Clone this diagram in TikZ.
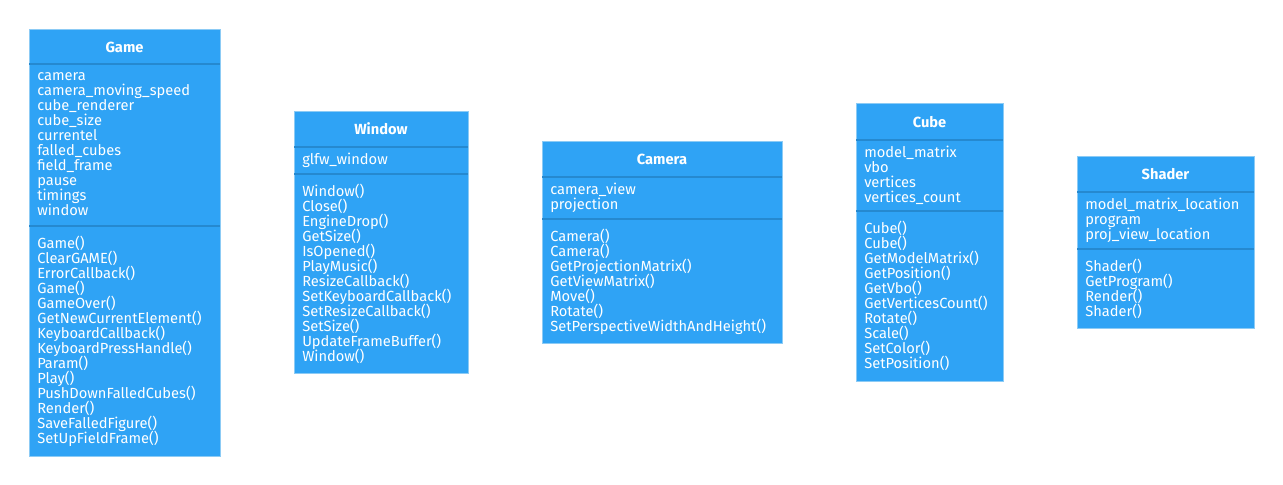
\documentclass[tikz,border=0pt]{standalone}
\usepackage{fontspec}
\setmainfont{Fira Sans}
\usepackage{tikz}

\definecolor{umlblue}{HTML}{2FA3F5}
\definecolor{umldark}{HTML}{2589D0}
\definecolor{umlborder}{HTML}{8CCBF5}
\newcommand\tightlines{\lineskiplimit=-100pt\relax}

\begin{document}
\begin{tikzpicture}[x=0.75pt,y=-0.75pt,
		classbox/.style={draw=umlborder,fill=umlblue,line width=0.75pt},
		divider/.style={draw=umldark,line width=1.5pt},
		title/.style={text=white,inner sep=0pt,font=\bfseries\fontsize{11}{12}\selectfont},
		members/.style={text=white,align=left,anchor=north west,inner sep=0pt,
			font=\fontsize{11}{11.25}\selectfont\tightlines}]
		\useasboundingbox (0,0) rectangle (1283,485);
		
		% Game
		\draw[classbox] (29,30) rectangle (220,456);
		\node[title] (game) at (124.5,47) {Game};
		\draw[divider] (29,64) -- (220,64);
		\draw[divider] (29,226) -- (220,226);
		\node[members] (gameattr) at (37,70) {\strut camera\\camera\_moving\_speed\\cube\_renderer\\cube\_size\\currentel\\falled\_cubes\\field\_frame\\pause\\timings\\window};
		\node[members] (gameops) at (37,236) {\strut Game()\\ClearGAME()\\ErrorCallback()\\Game()\\GameOver()\\GetNewCurrentElement()\\KeyboardCallback()\\KeyboardPressHandle()\\Param()\\Play()\\PushDownFalledCubes()\\Render()\\SaveFalledFigure()\\SetUpFieldFrame()};
		
		% Window
		\draw[classbox] (294,112) rectangle (468,373);
		\node[title] (window) at (381,129) {Window};
		\draw[divider] (294,147) -- (468,147);
		\draw[divider] (294,174) -- (468,174);
		\node[members] (windowattr) at (302,153) {\strut glfw\_window};
		\node[members] (windowops) at (302,184) {\strut Window()\\Close()\\EngineDrop()\\GetSize()\\IsOpened()\\PlayMusic()\\ResizeCallback()\\SetKeyboardCallback()\\SetResizeCallback()\\SetSize()\\UpdateFrameBuffer()\\Window()};
		
		% Camera
		\draw[classbox] (542,142) rectangle (782,343);
		\node[title] (camera) at (662,159) {Camera};
		\draw[divider] (542,177) -- (782,177);
		\draw[divider] (542,219) -- (782,219);
		\node[members] (cameraattr) at (550,183) {\strut camera\_view\\projection};
		\node[members] (cameraops) at (550,229) {\strut Camera()\\Camera()\\GetProjectionMatrix()\\GetViewMatrix()\\Move()\\Rotate()\\SetPerspectiveWidthAndHeight()};
		
		% Cube
		\draw[classbox] (856,104) rectangle (1003,381);
		\node[title] (cube) at (929.5,122) {Cube};
		\draw[divider] (856,140) -- (1003,140);
		\draw[divider] (856,211) -- (1003,211);
		\node[members] (cubeattr) at (864,146) {\strut model\_matrix\\vbo\\vertices\\vertices\_count};
		\node[members] (cubeops) at (864,221) {\strut Cube()\\Cube()\\GetModelMatrix()\\GetPosition()\\GetVbo()\\GetVerticesCount()\\Rotate()\\Scale()\\SetColor()\\SetPosition()};
		
		% Shader
		\draw[classbox] (1077,157) rectangle (1254,328);
		\node[title] (shader) at (1165.5,174) {Shader};
		\draw[divider] (1077,192) -- (1254,192);
		\draw[divider] (1077,249) -- (1254,249);
		\node[members] (shaderattr) at (1085,198) {\strut model\_matrix\_location\\program\\proj\_view\_location};
		\node[members] (shaderops) at (1085,259) {\strut Shader()\\GetProgram()\\Render()\\Shader()};
\end{tikzpicture}
\end{document}
